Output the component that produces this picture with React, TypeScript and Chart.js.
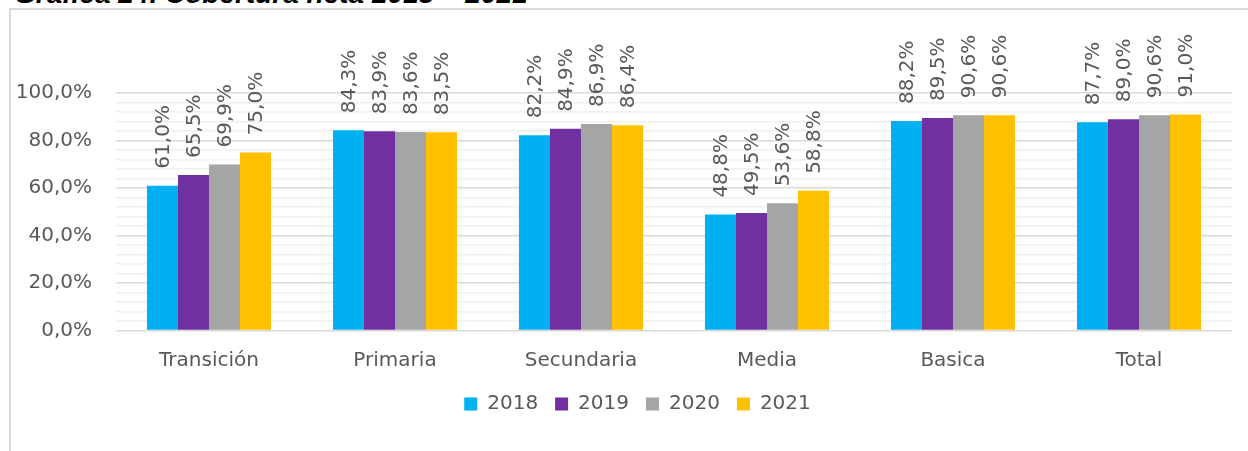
import React, { useEffect, useRef } from "react";
import { Chart, registerables } from "chart.js";

Chart.register(...registerables);

const categories = ["Transición", "Primaria", "Secundaria", "Media", "Basica", "Total"];
const seriesNames = ["2018", "2019", "2020", "2021"];
const values2018 = [61.0, 84.3, 82.2, 48.8, 88.2, 87.7];
const values2019 = [65.5, 83.9, 84.9, 49.5, 89.5, 89.0];
const values2020 = [69.9, 83.6, 86.9, 53.6, 90.6, 90.6];
const values2021 = [75.0, 83.5, 86.4, 58.8, 90.6, 91.0];
const seriesColors = ["#00B0F0", "#7030A0", "#A5A5A5", "#FFC000"];

const FONT = "'DejaVu Sans', sans-serif";
const TEXT = "#595959";

const fmt = (v: number) => v.toFixed(1).replace(".", ",") + "%";

const barLabels = {
  id: "barLabels",
  afterDatasetsDraw(chart: any) {
    const ctx = chart.ctx;
    ctx.save();
    ctx.fillStyle = TEXT;
    ctx.font = `20px ${FONT}`;
    ctx.textAlign = "left";
    ctx.textBaseline = "middle";
    chart.data.datasets.forEach((ds: any, i: number) => {
      const meta = chart.getDatasetMeta(i);
      meta.data.forEach((el: any, j: number) => {
        ctx.save();
        ctx.translate(el.x + 1, el.y - 17);
        ctx.rotate(-Math.PI / 2);
        ctx.fillText(fmt(ds.data[j]), 0, 0);
        ctx.restore();
      });
    });
    ctx.restore();
  },
};

// Shift the legend so it is centred on the whole frame rather than the canvas.
const legendShift = {
  id: "legendShift",
  afterLayout(chart: any) {
    if (chart.legend) {
      chart.legend.left += 21.5;
      chart.legend.right += 21.5;
    }
  },
};

export default function App() {
  const ref = useRef<HTMLCanvasElement>(null);
  useEffect(() => {
    const all = [values2018, values2019, values2020, values2021];
    const chart = new Chart(ref.current!, {
      type: "bar",
      data: {
        labels: categories,
        datasets: seriesNames.map((n, i) => ({
          label: n,
          data: all[i],
          backgroundColor: seriesColors[i],
          borderWidth: 0,
          categoryPercentage: 0.667,
          barPercentage: 1,
        })),
      },
      options: {
        animation: false,
        responsive: false,
        maintainAspectRatio: false,
        layout: { padding: { top: 93, left: 0, right: 16, bottom: 27 } },
        plugins: {
          tooltip: { enabled: false },
          legend: {
            position: "bottom",
            labels: {
              boxWidth: 13,
              boxHeight: 13,
              padding: 17,
              color: TEXT,
              font: { family: FONT, size: 20 },
            },
          },
        },
        scales: {
          x: {
            afterFit: (s: any) => {
              s.height = 46.5;
            },
            grid: { display: false, drawTicks: false },
            border: { display: false },
            ticks: { color: TEXT, font: { family: FONT, size: 20 }, padding: 18.5 },
          },
          y: {
            min: 0,
            max: 100,
            afterFit: (s: any) => {
              s.width = 116;
            },
            ticks: {
              stepSize: 4,
              autoSkip: false,
              padding: 24,
              color: TEXT,
              font: { family: FONT, size: 20 },
              callback: (v: any) => (Math.round(v) % 20 === 0 ? fmt(Number(v)) : ""),
            },
            grid: {
              drawTicks: false,
              lineWidth: 1.5,
              color: (c: any) =>
                Math.round(c.tick.value) % 20 === 0 ? "#D9D9D9" : "#F0F0F0",
            },
            border: { display: false },
          },
        },
      },
      plugins: [barLabels, legendShift],
    });
    return () => chart.destroy();
  }, []);

  return (
    <div
      style={{
        position: "absolute",
        left: 0,
        top: 0,
        width: 1248,
        height: 451,
        overflow: "hidden",
        background: "#fff",
      }}
    >
      <div
        style={{
          position: "absolute",
          left: 14,
          top: -20,
          font: "italic bold 28px 'Liberation Sans', Arial, sans-serif",
          lineHeight: 1,
          whiteSpace: "nowrap",
          color: "#000",
        }}
      >
        Gráfica 24. Cobertura neta 2018 – 2021
      </div>
      <div
        style={{
          position: "absolute",
          left: 9,
          top: 8,
          width: 2000,
          height: 2000,
          borderLeft: "2px solid #D9D9D9",
          borderTop: "2px solid #D9D9D9",
        }}
      />
      <canvas
        ref={ref}
        width={1248}
        height={451}
        style={{ position: "absolute", left: 0, top: 0, width: 1248, height: 451 }}
      />
    </div>
  );
}
